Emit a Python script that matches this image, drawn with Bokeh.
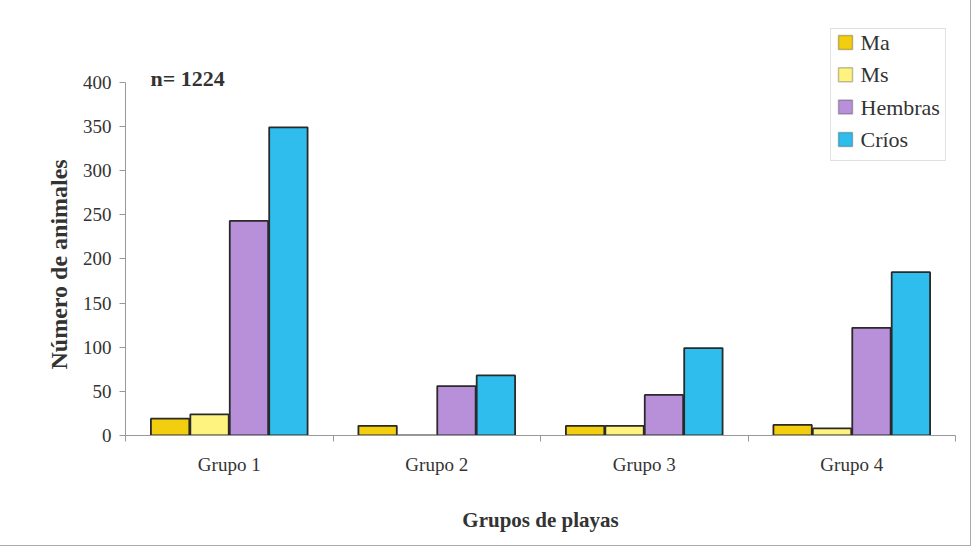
from bokeh.plotting import figure
from bokeh.models import ColumnDataSource, FixedTicker, Label, Title, BoxAnnotation
from bokeh.embed import file_html
from bokeh.resources import INLINE

groups = ["Grupo 1", "Grupo 2", "Grupo 3", "Grupo 4"]
series = ["Ma", "Ms", "Hembras", "Críos"]
ma = [19, 11, 11, 12]
ms = [24, 0, 11, 8]
hembras = [243, 56, 46, 122]
crios = [349, 68, 99, 185]
colors = ["#F2CE0E", "#FFF380", "#B890DA", "#2FBDEE"]

values = [ma, ms, hembras, crios]
FONT = "Liberation Serif"

p = figure(width=970, height=545, output_backend="svg", toolbar_location=None,
           x_range=(0.5, 4.5), y_range=(0, 470),
           min_border_left=125, min_border_right=15, min_border_top=20, min_border_bottom=110)
p.outline_line_color = None
p.grid.grid_line_color = None
p.background_fill_color = "white"
p.border_fill_color = "white"
p.styles = {"outline": "1px solid #aaaaaa"}

offsets = [-0.285, -0.095, 0.095, 0.285]
bw = 0.185
for s, vals, col, off in zip(series, values, colors, offsets):
    xs = [i + 1 + off for i in range(len(groups))]
    src = ColumnDataSource(dict(x=xs, top=vals))
    p.vbar(x="x", top="top", bottom=0, width=bw, source=src,
           fill_color=col, line_color="#2a2a2a", line_width=1.8)

# legend (built from annotations, screen units relative to the frame)
LEG_LEFT, LEG_RIGHT, LEG_TOP, LEG_BOTTOM = 705, 820, 407, 275
SW_LEFT, SW_SIZE, FIRST_CY, STEP = 713, 14, 393, 32.3
p.add_layout(BoxAnnotation(left=LEG_LEFT, right=LEG_RIGHT, top=LEG_TOP, bottom=LEG_BOTTOM,
                           left_units="screen", right_units="screen",
                           top_units="screen", bottom_units="screen",
                           fill_color="white", fill_alpha=1,
                           line_color="#999999", line_width=1))
for k, (s, col) in enumerate(zip(series, colors)):
    cy = FIRST_CY - k * STEP
    p.add_layout(BoxAnnotation(left=SW_LEFT, right=SW_LEFT + SW_SIZE,
                               top=cy + SW_SIZE / 2, bottom=cy - SW_SIZE / 2,
                               left_units="screen", right_units="screen",
                               top_units="screen", bottom_units="screen",
                               fill_color=col, fill_alpha=1,
                               line_color="#2a2a2a", line_width=1.5))
    p.add_layout(Label(x=SW_LEFT + SW_SIZE + 8, y=cy, x_units="screen", y_units="screen",
                       text=s, text_font=FONT, text_font_size="22px",
                       text_color="#333333", text_baseline="middle"))

# axes
xa = p.xaxis[0]
xa.ticker = FixedTicker(ticks=[1, 2, 3, 4], minor_ticks=[0.5, 1.5, 2.5, 3.5, 4.5])
xa.major_label_overrides = {i + 1: g for i, g in enumerate(groups)}
xa.major_tick_line_color = None
xa.minor_tick_out = 6
xa.minor_tick_in = 0
xa.minor_tick_line_color = "#999999"
xa.axis_line_color = "#999999"
xa.major_label_text_font = FONT
xa.major_label_text_font_size = "19px"
xa.major_label_text_color = "#333333"
xa.major_label_standoff = 12
xa.axis_label = "Grupos de playas"
xa.axis_label_text_font = FONT
xa.axis_label_text_font_style = "bold"
xa.axis_label_text_font_size = "21px"
xa.axis_label_text_color = "#333333"
xa.axis_label_standoff = 30

ya = p.yaxis[0]
ya.ticker = FixedTicker(ticks=list(range(0, 401, 50)))
ya.bounds = (0, 400)
ya.minor_tick_line_color = None
ya.axis_line_color = "#999999"
ya.major_tick_line_color = "#999999"
ya.major_tick_out = 6
ya.major_tick_in = 0
ya.major_label_text_font = FONT
ya.major_label_text_font_size = "19px"
ya.major_label_text_color = "#333333"
ya.major_label_standoff = 8

ytitle = Title(text="Número de animales", align="left", offset=66,
               text_font=FONT, text_font_style="bold", text_font_size="24px",
               text_color="#333333", standoff=16)
p.add_layout(ytitle, "left")

p.add_layout(Label(x=25, y=345, x_units="screen", y_units="screen", text="n= 1224",
                   text_font=FONT, text_font_style="bold", text_font_size="22px",
                   text_color="#333333"))

open("out.html", "w").write(file_html(p, INLINE))
